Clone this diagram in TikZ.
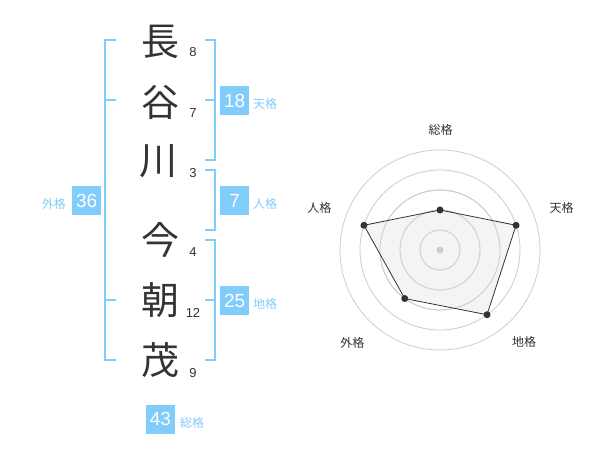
\documentclass[tikz,border=0pt]{standalone}
\usepackage{fontspec}
\setmainfont{Liberation Sans}
\newfontfamily\cjk{Noto Sans CJK JP}
\definecolor{kblue}{RGB}{128,204,250}
\definecolor{kdark}{RGB}{51,51,51}
\definecolor{kring}{RGB}{204,204,204}
\definecolor{kfill}{RGB}{242,242,242}
\begin{document}
\begin{tikzpicture}[x=1pt,y=-1pt,
  kanji/.style={inner sep=0pt, font=\cjk\fontsize{38}{38}\selectfont, text=kdark},
  strokes/.style={inner sep=0pt, font=\fontsize{13}{13}\selectfont, text=kdark},
  brk/.style={draw=kblue, line width=2pt},
  valbox/.style={fill=kblue, text=white, minimum width=29pt, minimum height=29pt, inner sep=0pt, font=\fontsize{19}{19}\selectfont},
  kaku/.style={inner sep=0pt, text=kblue, font=\cjk\fontsize{12}{12}\selectfont},
  radlab/.style={inner sep=0pt, text=kdark, font=\cjk\fontsize{12}{12}\selectfont},
  ring/.style={draw=kring, line width=0.8pt},
  dot/.style={circle, fill=kdark, inner sep=0pt, minimum size=7pt}]
\useasboundingbox (0,0) rectangle (600,470);
% name characters
\node[kanji] (c1) at (160,42) {長};
\node[kanji] (c2) at (160,102) {谷};
\node[kanji] (c3) at (158,161) {川};
\node[kanji] (c4) at (160,240) {今};
\node[kanji] (c5) at (160,300) {朝};
\node[kanji] (c6) at (160,360) {茂};
% stroke counts
\node[strokes] (s1) at (193,52) {8};
\node[strokes] (s2) at (193,113) {7};
\node[strokes] (s3) at (193,173) {3};
\node[strokes] (s4) at (193,252) {4};
\node[strokes] (s5) at (193,313) {12};
\node[strokes] (s6) at (193,373) {9};
% brackets
\draw[brk] (116,40) -- (105,40) -- (105,360) -- (116,360);
\draw[brk] (105,100) -- (116,100);
\draw[brk] (105,300) -- (116,300);
\draw[brk] (205,40) -- (215,40) -- (215,160) -- (205,160);
\draw[brk] (205,100) -- (215,100);
\draw[brk] (205,170) -- (215,170) -- (215,230) -- (205,230);
\draw[brk] (205,240) -- (215,240) -- (215,360) -- (205,360);
\draw[brk] (205,300) -- (215,300);
% values
\node[valbox] (v18) at (234.7,100.5) {18};
\node[kaku, anchor=west] (l18) at (253,104) {天格};
\node[valbox] (v7) at (234.7,200.5) {7};
\node[kaku, anchor=west] (l7) at (253,204) {人格};
\node[valbox] (v25) at (234.7,300.5) {25};
\node[kaku, anchor=west] (l25) at (253,304) {地格};
\node[valbox] (v36) at (86.7,200.5) {36};
\node[kaku, anchor=east] (l36) at (66,204) {外格};
\node[valbox] (v43) at (160.5,419) {43};
\node[kaku, anchor=west] (l43) at (180,423) {総格};
% radar
\begin{scope}[shift={(440,250)}, x=1pt, y=1pt]
  \foreach \r in {20,40,60,80,100} \draw[ring] (0,0) circle[radius=\r pt];
  \coordinate (p1) at (90:40);
  \coordinate (p2) at (18:80);
  \coordinate (p3) at (-54:80);
  \coordinate (p4) at (-126:60);
  \coordinate (p5) at (162:80);
  \fill[kfill, opacity=0.85] (p1) -- (p2) -- (p3) -- (p4) -- (p5) -- cycle;
  \foreach \r in {20,40,60} \draw[ring] (0,0) circle[radius=\r pt];
  \draw[kdark, line width=0.8pt] (p1) -- (p2) -- (p3) -- (p4) -- (p5) -- cycle;
  \node[circle, fill=kring, inner sep=0pt, minimum size=7pt] (ctr) at (0,0) {};
  \foreach \i in {1,...,5} \node[dot] (d\i) at (p\i) {};
\end{scope}
\node[radlab] (r1) at (440.7,130) {総格};
\node[radlab] (r2) at (561.7,208.3) {天格};
\node[radlab] (r3) at (524,342) {地格};
\node[radlab] (r4) at (352.3,343) {外格};
\node[radlab] (r5) at (319.3,208.3) {人格};
\end{tikzpicture}
\end{document}
